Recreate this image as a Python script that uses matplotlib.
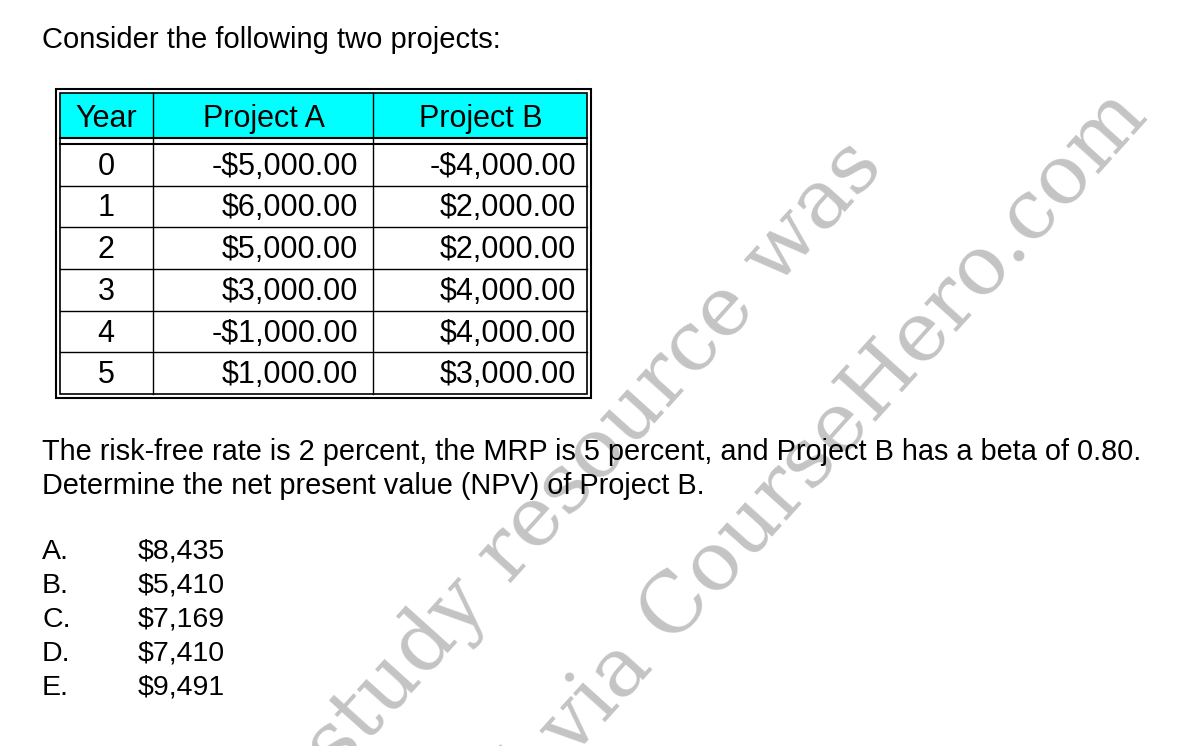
import matplotlib
matplotlib.use("Agg")
import matplotlib.pyplot as plt
from matplotlib.patches import Rectangle

years = ["0", "1", "2", "3", "4", "5"]
project_a = ["-$5,000.00", "$6,000.00", "$5,000.00", "$3,000.00", "-$1,000.00", "$1,000.00"]
project_b = ["-$4,000.00", "$2,000.00", "$2,000.00", "$4,000.00", "$4,000.00", "$3,000.00"]
headers = ["Year", "Project A", "Project B"]
choice_letters = ["A.", "B.", "C.", "D.", "E."]
choice_values = ["$8,435", "$5,410", "$7,169", "$7,410", "$9,491"]

plt.rcParams['font.family'] = ['Liberation Sans', 'DejaVu Sans']
fig = plt.figure(figsize=(11.92, 7.46), dpi=100)
ax = fig.add_axes([0, 0, 1, 1])
ax.set_xlim(0, 1192); ax.set_ylim(746, 0); ax.axis('off')

# watermark
wm = dict(color='#c4c4c4', family='DejaVu Serif', fontsize=60, rotation=48,
          ha='right', va='baseline', rotation_mode='anchor', zorder=0)
ax.text(885, 168, "This study resource was", **wm)
ax.text(1150, 118, "shared via CourseHero.com", **wm)

ax.text(42, 40, "Consider the following two projects:", fontsize=21, va='center')

L, R, T, B = 56, 591, 89, 398
ax.add_patch(Rectangle((L, T), R-L, B-T, fill=False, lw=1.5, color='black', zorder=3))
ax.add_patch(Rectangle((L+4, T+4), R-L-8, B-T-8, fill=False, lw=1.2, color='black', zorder=3))
ax.add_patch(Rectangle((60, 93), R-4-60, 45, color='#00ffff', lw=0, zorder=1))
cols = [60, 153, 373, 587]
ax.plot([60, 587], [138, 138], color='black', lw=1.5, zorder=3)
ax.plot([60, 587], [144, 144], color='black', lw=1.5, zorder=3)
for x in cols[1:3]:
    ax.plot([x, x], [93, 394], color='black', lw=1, zorder=3)
ax.text(106, 119, headers[0], fontsize=22, ha='center', va='center')
ax.text(264, 119, headers[1], fontsize=22, ha='center', va='center')
ax.text(481, 119, headers[2], fontsize=22, ha='center', va='center')
row_h = (394 - 144) / 6
for i in range(6):
    yc = 144 + row_h * (i + 0.5)
    if i > 0:
        ax.plot([60, 587], [144 + row_h*i]*2, color='black', lw=1, zorder=3)
    ax.text(106, yc+2, years[i], fontsize=22, ha='center', va='center')
    ax.text(358, yc+2, project_a[i], fontsize=22, ha='right', va='center')
    ax.text(576, yc+2, project_b[i], fontsize=22, ha='right', va='center')

ax.text(42, 452, "The risk-free rate is 2 percent, the MRP is 5 percent, and Project B has a beta of 0.80.", fontsize=20.8, va='center')
ax.text(42, 486, "Determine the net present value (NPV) of Project B.", fontsize=20.8, va='center')

for i in range(5):
    y = 552 + i * 34
    ax.text(42, y, choice_letters[i], fontsize=20.5, va='center')
    ax.text(138, y, choice_values[i], fontsize=20.5, va='center')

fig.savefig("out.png", dpi=100)
